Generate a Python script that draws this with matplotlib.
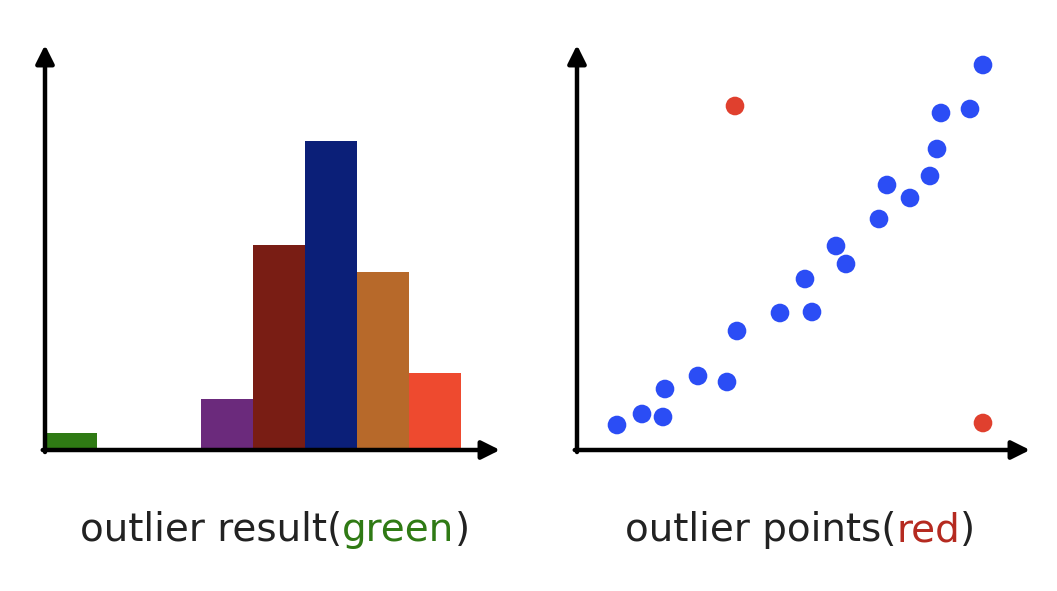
import matplotlib
matplotlib.use("Agg")
import matplotlib.pyplot as plt

# histogram data (bin index, height)
bins = [0, 3, 4, 5, 6, 7]
heights = [1.7, 5.1, 20.5, 30.9, 17.8, 7.7]
bar_colors = ["#2f7a14", "#6b2a7c", "#791d14", "#0b1f78", "#b7692a", "#ee4a2f"]

# scatter data
blue_x = [40, 65, 86, 88, 121, 150, 160, 203, 228, 235, 259, 269, 302, 310, 333, 353, 360, 364, 393, 406]
blue_y = [25, 36, 33, 61, 74, 68, 119, 137, 171, 138, 204, 186, 231, 265, 252, 274, 301, 337, 341, 385]
red_x = [158, 406]
red_y = [344, 27]

W, H = 1057, 591
fig = plt.figure(figsize=(W/100, H/100), dpi=100)

def ax_at(x0, y0, x1, y1):
    return fig.add_axes([x0/W, 1-y1/H, (x1-x0)/W, (y1-y0)/H])

def arrows(ax):
    ax.set_axis_off()
    kw = dict(arrowstyle="-|>,head_length=1.1,head_width=0.55", lw=3.2, color="black",
              shrinkA=0, shrinkB=0)
    ax.annotate("", xy=(0, 1), xytext=(0, -0.005), xycoords="axes fraction", arrowprops=kw, annotation_clip=False)
    ax.annotate("", xy=(1, 0), xytext=(-0.005, 0), xycoords="axes fraction", arrowprops=kw, annotation_clip=False)

ax1 = ax_at(45, 45, 500, 450)
ax1.bar(bins, heights, width=1, align="edge", color=bar_colors)
ax1.set_xlim(0, 8.75)
ax1.set_ylim(0, 40.5)
arrows(ax1)

ax2 = ax_at(577, 45, 1030, 450)
ax2.scatter(blue_x, blue_y, s=180, color="#2b4df5", edgecolors="none")
ax2.scatter(red_x, red_y, s=180, color="#e0402e", edgecolors="none")
ax2.set_xlim(0, 453)
ax2.set_ylim(0, 405)
arrows(ax2)

fig.canvas.draw()
r = fig.canvas.get_renderer()

def multi(cx, y, parts, fs=28):
    texts = []
    for s, c in parts:
        t = fig.text(0, 0, s, color=c, fontsize=fs, family="DejaVu Sans", va="center")
        texts.append(t)
    widths = [t.get_window_extent(r).width for t in texts]
    x = cx - sum(widths)/2
    for t, w in zip(texts, widths):
        t.set_position((x/W, 1-y/H))
        x += w

multi(275, 530, [("outlier result(", "#222222"), ("green", "#2f7a14"), (")", "#222222")])
multi(800, 530, [("outlier points(", "#222222"), ("red", "#b52a20"), (")", "#222222")])

fig.savefig("out.png", dpi=100)
